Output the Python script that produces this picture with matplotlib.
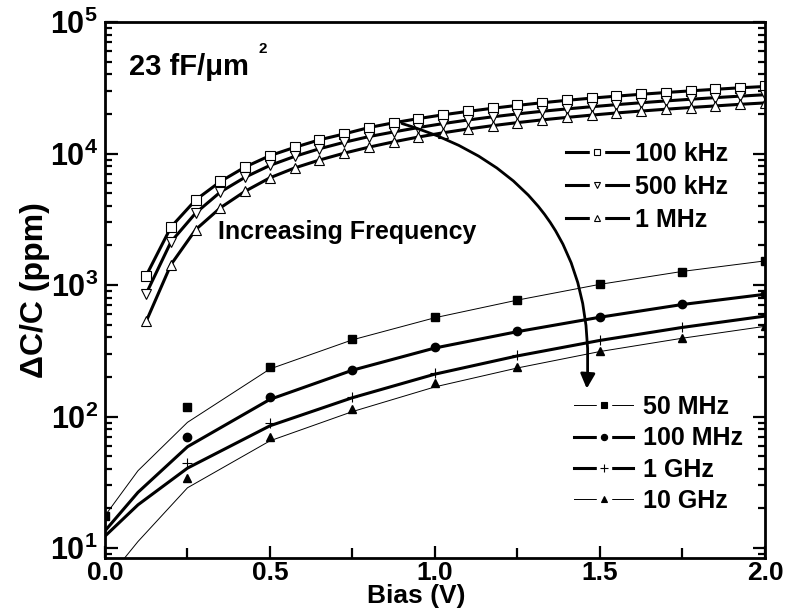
import numpy as np
import matplotlib
matplotlib.use("Agg")
import matplotlib.pyplot as plt
from matplotlib.lines import Line2D
from matplotlib.legend_handler import HandlerTuple
from matplotlib.ticker import MultipleLocator, LogLocator, NullFormatter

plt.rcParams['font.family'] = ['Liberation Sans', 'DejaVu Sans']
plt.rcParams['font.weight'] = 'bold'
plt.rcParams['mathtext.fontset'] = 'custom'
plt.rcParams['mathtext.rm'] = 'Liberation Sans:bold'
plt.rcParams['mathtext.bf'] = 'Liberation Sans:bold'
plt.rcParams['mathtext.it'] = 'Liberation Sans:bold'

# low-frequency measurements (open markers), bias every 0.075 V
bias_lf = [0.125, 0.2, 0.275, 0.35, 0.425, 0.5, 0.575, 0.65, 0.725, 0.8, 0.875,
           0.95, 1.025, 1.1, 1.175, 1.25, 1.325, 1.4, 1.475, 1.55, 1.625, 1.7,
           1.775, 1.85, 1.925, 2.0]
dc_100k = [1180, 2760, 4440, 6130, 7900, 9640, 11140, 12710, 14090, 15760, 17130,
           18430, 19710, 20900, 22090, 23230, 24330, 25380, 26380, 27310, 28220,
           29100, 29960, 30790, 31610, 32340]
dc_500k = [860, 2130, 3530, 5100, 6610, 8120, 9510, 10870, 12170, 13450, 14590,
           15760, 16890, 17980, 19010, 20000, 20950, 21840, 22690, 23520, 24330,
           25110, 25860, 26600, 27310, 27990]
dc_1m = [530, 1430, 2640, 3870, 5170, 6540, 7770, 8920, 10060, 11180, 12270,
         13350, 14380, 15360, 16290, 17180, 18020, 18820, 19590, 20340, 21040,
         21720, 22380, 23010, 23670, 24250]

# high-frequency measurements (filled markers)
bias_hf = [0.25, 0.5, 0.75, 1.0, 1.25, 1.5, 1.75, 2.0]
bias_50m = [0.0] + bias_hf
dc_50m = [17.6, 118, 239, 389, 573, 768, 1018, 1260, 1529]
dc_100m = [70, 141, 225, 338, 446, 573, 716, 853]
dc_1g = [44, 88.6, 140, 214, 293, 382, 479, 580]
dc_10g = [34.3, 70, 114, 179, 238, 314, 395, 486]

# fitted curves
bias_fit = [0.0, 0.1, 0.25, 0.5, 0.75, 1.0, 1.25, 1.5, 1.75, 2.0]
fit_50m = [17.6, 38.7, 90.3, 230, 383, 564, 768, 1012, 1269, 1525]
fit_100m = [13.5, 26.5, 58.9, 135, 225, 332, 442, 569, 711, 850]
fit_1g = [12.3, 21.3, 40.5, 85, 139, 210, 289, 379, 476, 580]
fit_10g = [5.5, 11.2, 28.7, 65.3, 109, 168, 234, 312, 394, 485]

y_min, y_max = 8.39, 1e5


def legend_handle(lw, marker, ms, mfc, mew=0.8):
    # line with a small gap around the marker, like the original legend
    line = Line2D([], [], color='k', lw=lw)
    gap = Line2D([], [], ls='none', marker='s', ms=10, mfc='white', mec='white')
    mark = Line2D([], [], ls='none', marker=marker, ms=ms, mfc=mfc, mec='k', mew=mew)
    return (line, gap, mark)


def main():
    fig = plt.figure(figsize=(7.87, 6.08), dpi=100)
    ax = fig.add_axes([0.1334, 0.0822, 0.972 - 0.1334, 0.9638 - 0.0822])

    thick = 2.2
    thin = 0.7
    ms_open = 6.5

    # upper group
    ax.plot(bias_lf, dc_100k, '-', color='k', lw=thick, marker='s', ms=ms_open,
            mfc='white', mec='k', mew=0.8)
    ax.plot(bias_lf, dc_500k, '-', color='k', lw=thick, marker='v', ms=ms_open,
            mfc='white', mec='k', mew=0.8)
    ax.plot(bias_lf, dc_1m, '-', color='k', lw=thick, marker='^', ms=ms_open,
            mfc='white', mec='k', mew=0.8)

    # lower group: fits and data
    ax.plot(bias_fit, fit_50m, '-', color='k', lw=thin)
    ax.plot(bias_fit, fit_100m, '-', color='k', lw=thick)
    ax.plot(bias_fit, fit_1g, '-', color='k', lw=thick)
    ax.plot(bias_fit, fit_10g, '-', color='k', lw=thin)
    ax.plot(bias_50m, dc_50m, 's', color='k', ms=5.5)
    ax.plot(bias_hf, dc_100m, 'o', color='k', ms=6)
    ax.plot(bias_hf, dc_1g, '+', color='k', ms=7, mew=0.8)
    ax.plot(bias_hf, dc_10g, '^', color='k', ms=6)

    ax.set_yscale('log')
    ax.set_xlim(0, 2.0)
    ax.set_ylim(y_min, y_max)

    ax.xaxis.set_major_locator(MultipleLocator(0.5))
    ax.xaxis.set_minor_locator(MultipleLocator(0.25))
    ax.xaxis.set_major_formatter(plt.FuncFormatter(lambda v, p: f"{v:.1f}"))
    ax.yaxis.set_major_locator(LogLocator(base=10, numticks=10))
    ax.yaxis.set_minor_locator(LogLocator(base=10, subs=np.arange(2, 10), numticks=20))
    ax.yaxis.set_minor_formatter(NullFormatter())
    ax.yaxis.set_major_formatter(plt.FuncFormatter(
        lambda v, p: r"$\mathbf{10^{%d}}$" % round(np.log10(v))))

    ax.tick_params(axis='both', which='both', direction='in', width=1.6)
    ax.tick_params(axis='both', which='major', length=9)
    ax.tick_params(axis='x', which='major', labelsize=19, pad=2)
    ax.tick_params(axis='y', which='major', labelsize=22, pad=5)
    ax.tick_params(axis='x', which='minor', length=7)
    ax.tick_params(axis='y', which='minor', length=5)
    ax.tick_params(axis='y', which='both', right=True)
    ax.tick_params(axis='x', which='both', top=False)
    for s in ax.spines.values():
        s.set_linewidth(2.0)

    ax.set_xlabel("Bias (V)", fontsize=19, fontweight='bold', va='bottom')
    ax.xaxis.set_label_coords(0.471, -0.0925)
    ax.set_ylabel("ΔC/C (ppm)", fontsize=23, fontweight='bold', labelpad=0)

    ax.text(0.036, 0.916, "23 fF/μm", transform=ax.transAxes, fontsize=21,
            fontweight='bold', va='center', ha='left')
    ax.text(0.232, 0.95, "2", transform=ax.transAxes, fontsize=11,
            fontweight='bold', va='center', ha='left')
    ax.text(0.171, 0.608, "Increasing Frequency", transform=ax.transAxes,
            fontsize=18, fontweight='bold', va='center', ha='left')

    ax.annotate("", xy=(1.46, 163), xytext=(0.9, 16900),
                arrowprops=dict(arrowstyle='-|>', connectionstyle='arc3,rad=-0.4',
                                lw=2.0, color='k', mutation_scale=22,
                                shrinkA=0, shrinkB=0))

    # legends
    h_up = [legend_handle(thick, m, 4.5, 'white') for m in ['s', 'v', '^']]
    leg1 = ax.legend(h_up, ["100 kHz", "500 kHz", "1 MHz"], loc='upper left',
                     bbox_to_anchor=(0.68, 0.8), frameon=False, fontsize=18,
                     handlelength=2.45, handletextpad=0.3, labelspacing=0.36,
                     borderpad=0, handler_map={tuple: HandlerTuple(ndivide=1)})
    ax.add_artist(leg1)
    h_lo = [legend_handle(thin, 's', 4.5, 'k'),
            legend_handle(thick, 'o', 4.5, 'k'),
            legend_handle(thick, '+', 5.5, 'k'),
            legend_handle(thin, '^', 4.5, 'k')]
    ax.legend(h_lo, ["50 MHz", "100 MHz", "1 GHz", "10 GHz"], loc='upper left',
              bbox_to_anchor=(0.692, 0.327), frameon=False, fontsize=18,
              handlelength=2.35, handletextpad=0.4, labelspacing=0.29,
              borderpad=0, handler_map={tuple: HandlerTuple(ndivide=1)})

    fig.savefig("out.png", dpi=100)


if __name__ == "__main__":
    main()
